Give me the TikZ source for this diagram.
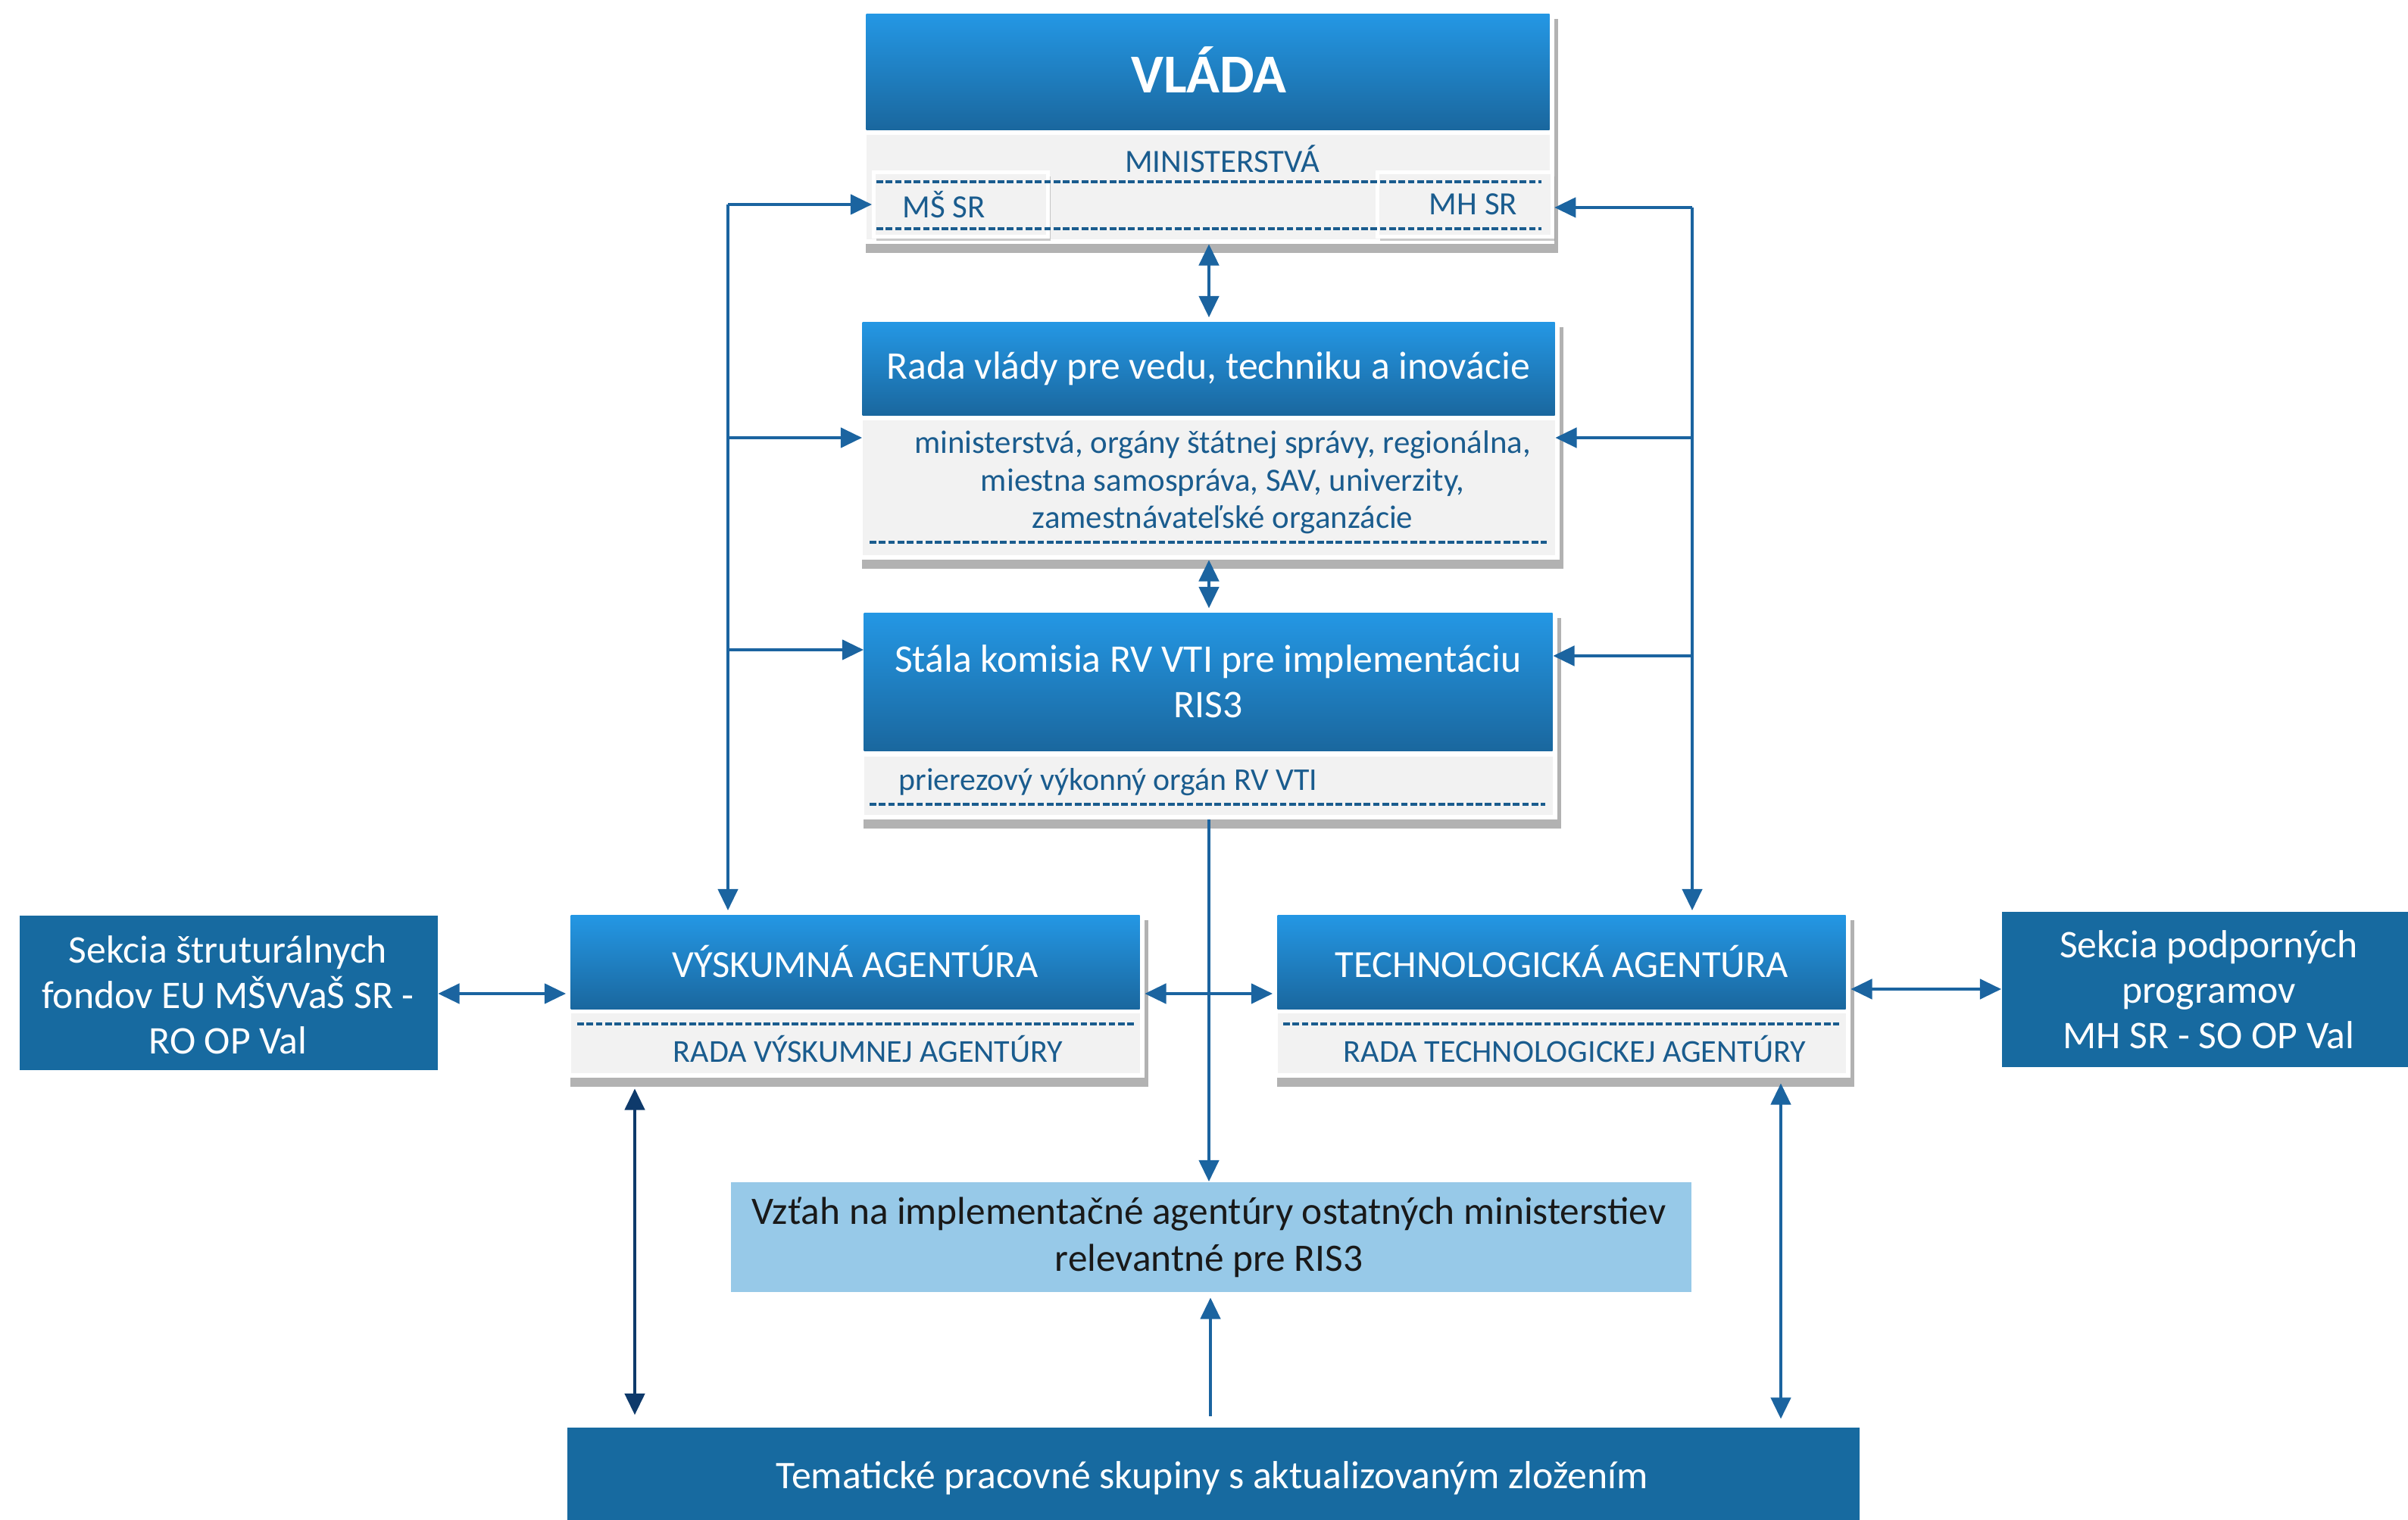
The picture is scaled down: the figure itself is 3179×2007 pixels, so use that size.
\documentclass[tikz,border=0pt]{standalone}
\usepackage{fontspec}
\setmainfont{Carlito}
\usetikzlibrary{shadows,arrows.meta}
\definecolor{hdtop}{HTML}{2497E4}
\definecolor{hdbot}{HTML}{1A679E}
\definecolor{graybg}{HTML}{F2F2F2}
\definecolor{darkbox}{HTML}{176AA0}
\definecolor{lightbox}{HTML}{97C9E8}
\definecolor{txtblue}{HTML}{1A5C8E}
\definecolor{arr}{HTML}{1B64A0}
\definecolor{navy}{HTML}{0E3A6B}
\newcommand\rbox[6]{\node[#6, anchor=north west, inner sep=0pt, minimum width={(#4-#2)*0.01cm}, minimum height={(#5-#3)*0.01cm}] (#1) at (#2,#3) {};}
\begin{document}
\begin{tikzpicture}[x=0.01cm,y=-0.01cm,
  frame/.style={fill=white, drop shadow={shadow xshift=1.5pt, shadow yshift=-3.5pt, fill=black!50, opacity=0.6}},
  header/.style={top color=hdtop, bottom color=hdbot, draw=none},
  body/.style={fill=graybg, draw=none},
  subframe/.style={fill=graybg, draw=white, line width=1.5pt, drop shadow={shadow xshift=1pt, shadow yshift=-1.5pt, fill=black!40, opacity=0.5}},
  dline/.style={draw=txtblue, line width=1.2pt, dash pattern=on 2.5pt off 1pt},
  dark/.style={fill=darkbox, draw=none},
  light/.style={fill=lightbox, draw=none},
  htxt/.style={text=white, font=\fontsize{14.7}{17}\selectfont, align=center, inner sep=0pt},
  btxt/.style={text=txtblue, font=\fontsize{12.2}{14}\selectfont, align=center, inner sep=0pt},
  wtxt/.style={text=white, font=\fontsize{14.7}{17}\selectfont, align=center, inner sep=0pt},
  conn/.style={draw=arr, line width=1pt},
  tip/.style={-{Triangle[length=8pt,width=7.5pt]}},
  tips/.style={{Triangle[length=8pt,width=7.5pt]}-{Triangle[length=8pt,width=7.5pt]}},
]
\useasboundingbox (0,0) rectangle (3179,2007);
\fill[white] (0,0) rectangle (3179,2007);

% VLADA
\rbox{vl}{1137}{12}{2051}{321}{frame}
\rbox{vlh}{1143}{18}{2045}{171}{header}
\rbox{vlb}{1143}{177}{2045}{315}{body}
\rbox{ms}{1151}{225}{1381}{310}{subframe}
\rbox{mh}{1816}{225}{2047}{310}{subframe}
\draw[dline] (1157,240) -- (2035,240);
\draw[dline] (1157,302) -- (2035,302);
\node[htxt, font=\fontsize{20.6}{24}\selectfont\bfseries] (vlt) at (1596,92) {VLÁDA};
\node[btxt] (mint) at (1614,210) {MINISTERSTVÁ};
\node[btxt] (mst) at (1246,270) {MŠ SR};
\node[btxt] (mht) at (1945,270) {MH SR};

% RADA
\rbox{ra}{1132}{419}{2058}{738}{frame}
\rbox{rah}{1138}{425}{2052}{548}{header}
\rbox{rab}{1138}{554}{2052}{732}{body}
\draw[dline] (1148,716) -- (2042,716);
\node[htxt] (rat) at (1595,487) {Rada vlády pre vedu, techniku a inovácie};
\node[btxt] (rabt) at (1614,637) {ministerstvá, orgány štátnej správy, regionálna,\\miestna samospráva, SAV, univerzity,\\zamestnávateľské organzácie};

% STALA
\rbox{st}{1134}{803}{2055}{1081}{frame}
\rbox{sth}{1140}{809}{2049}{991}{header}
\rbox{stb}{1140}{998}{2049}{1075}{body}
\draw[dline] (1148,1062) -- (2040,1062);
\node[htxt] (stt) at (1595,900) {Stála komisia RV VTI pre implementáciu\\RIS3};
\node[btxt, anchor=west, font=\fontsize{11.9}{14}\selectfont] (stbt) at (1186,1033) {prierezový výkonný orgán RV VTI};

% VA
\rbox{va}{747}{1202}{1510}{1422}{frame}
\rbox{vah}{753}{1208}{1504}{1332}{header}
\rbox{vab}{753}{1337}{1504}{1416}{body}
\draw[dline] (762,1352) -- (1498,1352);
\node[htxt, font=\fontsize{14.4}{17}\selectfont] (vat) at (1129,1270) {VÝSKUMNÁ AGENTÚRA};
\node[btxt, font=\fontsize{12}{14}\selectfont] (vabt) at (1146,1385) {RADA VÝSKUMNEJ AGENTÚRY};

% TA
\rbox{ta}{1680}{1202}{2442}{1422}{frame}
\rbox{tah}{1686}{1208}{2436}{1332}{header}
\rbox{tab}{1686}{1337}{2436}{1416}{body}
\draw[dline] (1694,1352) -- (2428,1352);
\node[htxt, font=\fontsize{14.4}{17}\selectfont] (tat) at (2062,1270) {TECHNOLOGICKÁ AGENTÚRA};
\node[btxt, font=\fontsize{12}{14}\selectfont] (tabt) at (2079,1385) {RADA TECHNOLOGICKEJ AGENTÚRY};

% Sekcie
\rbox{sl}{25}{1208}{577}{1412}{dark}
\node[wtxt] (slt) at (301,1314) {Sekcia štruturálnych\\fondov EU MŠVVaŠ SR -\\RO OP Val};
\rbox{sr}{2642}{1203}{3179}{1408}{dark}
\node[wtxt] (srt) at (2916,1307) {Sekcia podporných\\programov\\MH SR - SO OP Val};

% Vztah
\rbox{vz}{964}{1560}{2232}{1705}{light}
\node[wtxt, text=black!90, font=\fontsize{14.6}{17.6}\selectfont] (vzt) at (1596,1634) {Vzťah na implementačné agentúry ostatných ministerstiev\\relevantné pre RIS3};

% Tematicke
\rbox{tm}{748}{1884}{2454}{2007}{dark}
\node[wtxt] (tmt) at (1600,1952) {Tematické pracovné skupiny s aktualizovaným zložením};

% connectors
\coordinate (L1) at (961,270);
\coordinate (L2) at (961,578);
\coordinate (L3) at (961,858);
\coordinate (R1) at (2234,274);
\coordinate (R2) at (2234,578);
\coordinate (R3) at (2234,866);
\draw[conn, tip] (L1) -- (va.north -| L1);
\draw[conn, tip] (L1) -- (L1 -| ms.west);
\draw[conn, tip] (L2) -- (L2 -| rab.west);
\draw[conn, tip] (L3) -- (L3 -| sth.west);
\draw[conn, tip] (R1) -- (ta.north -| R1);
\draw[conn, tip] (R1) -- (R1 -| mh.east);
\draw[conn, tip] (R2) -- (R2 -| rab.east);
\draw[conn, tip] (R3) -- (R3 -| sth.east);
\draw[conn, tips] (vl.south -| vlt) -- (ra.north -| vlt);
\draw[conn, tips] (ra.south -| vlt) -- (st.north -| vlt);
\draw[conn, tip] (st.south -| vlt) -- (vz.north -| vlt);
\coordinate (H1) at (0,1312);
\draw[conn, tips] (H1 -| va.east) -- (H1 -| ta.west);
\draw[conn, tips] (H1 -| sl.east) -- (H1 -| va.west);
\coordinate (H2) at (0,1306);
\draw[conn, tips] (H2 -| ta.east) -- (H2 -| sr.west);
\coordinate (V1) at (838,0);
\draw[conn, draw=navy, tips, shorten <=4pt, shorten >=4.5pt] (va.south -| V1) -- (tm.north -| V1);
\coordinate (V2) at (2351,0);
\draw[conn, tips, shorten <=2pt, shorten >=3pt] (ta.south -| V2) -- (tm.north -| V2);
\coordinate (V3) at (1598,0);
\draw[conn, tip, shorten <=4pt, shorten >=2pt] (tm.north -| V3) -- (vz.south -| V3);
\end{tikzpicture}
\end{document}
